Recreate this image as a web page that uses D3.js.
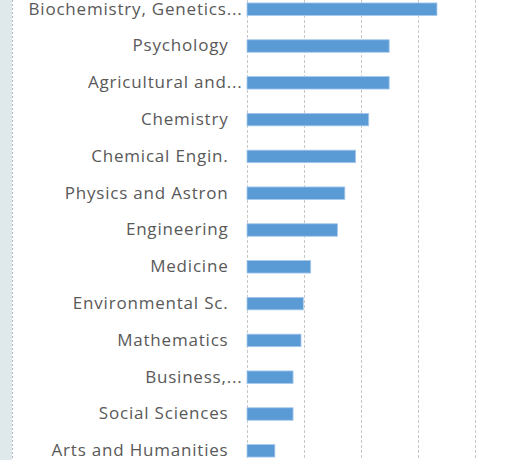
<!DOCTYPE html>
<html>
<head>
<meta charset="utf-8">
<script src="https://cdn.jsdelivr.net/npm/d3@7"></script>
<style>
  body { margin: 0; background: #fff; }
  svg { display: block; }
</style>
</head>
<body>
<div id="chart"></div>
<script>
// subject areas, top to bottom
const categories = [
  "Biochemistry, Genetics...",
  "Psychology",
  "Agricultural and...",
  "Chemistry",
  "Chemical Engin.",
  "Physics and Astron",
  "Engineering",
  "Medicine",
  "Environmental Sc.",
  "Mathematics",
  "Business,...",
  "Social Sciences",
  "Arts and Humanities"
];
const values = [33.4, 25.0, 25.0, 21.4, 19.1, 17.2, 15.9, 11.2, 9.9, 9.5, 8.1, 8.1, 4.9];
const gridTicks = [0, 10, 20, 30, 40];

const svgWidth = 510;
const svgHeight = 460;

const svg = d3.select("#chart")
  .append("svg")
  .attr("width", svgWidth)
  .attr("height", svgHeight);

// left strip (cut-off panel edge)
svg.append("rect")
  .attr("x", 0).attr("y", 0)
  .attr("width", 12).attr("height", svgHeight)
  .attr("fill", "#dfe9ec");
svg.append("line")
  .attr("x1", 12.5).attr("x2", 12.5)
  .attr("y1", 0).attr("y2", svgHeight)
  .attr("stroke", "#b8b8b8")
  .attr("stroke-dasharray", "2,2");

const x = d3.scaleLinear()
  .domain([0, 40])
  .range([247, 474.5]);

const y = d3.scaleBand()
  .domain(categories)
  .range([-9.2, 469.2])
  .paddingInner(0.66)
  .paddingOuter(0.33);

// gridlines
svg.append("g")
  .selectAll("line")
  .data(gridTicks)
  .enter()
  .append("line")
  .attr("x1", d => Math.round(x(d)) + 0.5)
  .attr("x2", d => Math.round(x(d)) + 0.5)
  .attr("y1", 0)
  .attr("y2", svgHeight)
  .attr("stroke", "#c8c8c8")
  .attr("stroke-width", 1)
  .attr("stroke-dasharray", "3,2");

// bars
svg.append("g")
  .selectAll("rect")
  .data(categories)
  .enter()
  .append("rect")
  .attr("x", x(0))
  .attr("y", d => y(d))
  .attr("width", (d, i) => x(values[i]) - x(0))
  .attr("height", y.bandwidth())
  .attr("fill", "#5b9bd5")
  .attr("stroke", "#a9c9ec")
  .attr("stroke-width", 0.8);

// category labels
svg.append("g")
  .selectAll("text")
  .data(categories)
  .enter()
  .append("text")
  .attr("x", d => d.endsWith("...") ? 242.5 : 228.5)
  .attr("y", d => y(d) + y.bandwidth() / 2 - 0.5)
  .attr("dy", "0.35em")
  .attr("text-anchor", "end")
  .attr("fill", "#595959")
  .style("font-family", "'Open Sans', sans-serif")
  .style("font-size", "17px")
  .style("letter-spacing", "0.8px")
  .text(d => d);
</script>
</body>
</html>
